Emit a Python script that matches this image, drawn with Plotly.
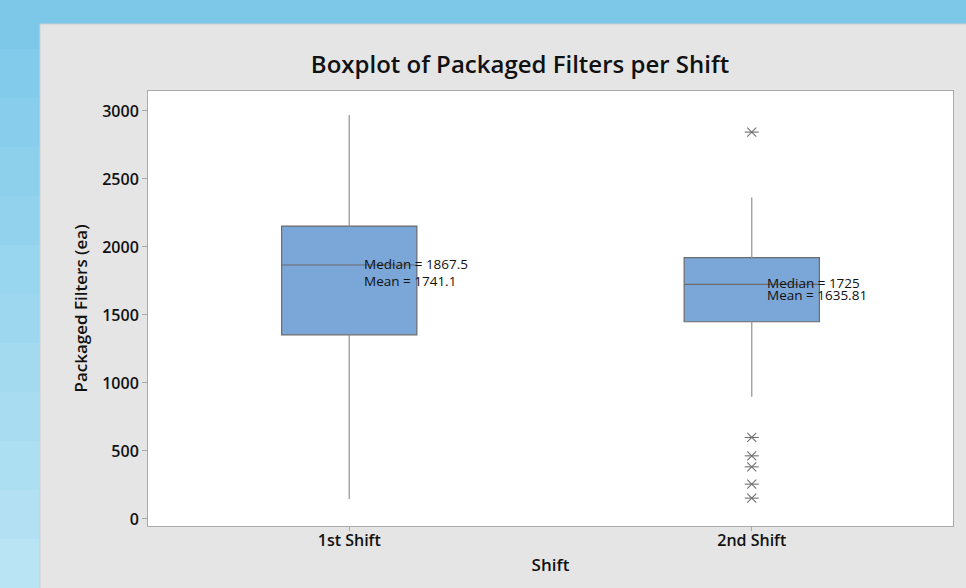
import plotly.graph_objects as go

# ---- data ----
categories = ["1st Shift", "2nd Shift"]
q1 = [1354, 1450]
medians = [1867.5, 1725]
q3 = [2154, 1921]
lower_whisker = [147, 899]
upper_whisker = [2970, 2363]
means = [1741.1, 1635.81]
median_labels = ["Median = 1867.5", "Median = 1725"]
mean_labels = ["Mean = 1741.1", "Mean = 1635.81"]
outlier_cat = ["2nd Shift"] * 6
outlier_vals = [2845, 599, 464, 383, 256, 153]
y_ticks = [0, 500, 1000, 1500, 2000, 2500, 3000]

W, H = 966, 588
L, R, T, B = 148, 953, 91, 526  # plot area in pixels
FONT = "Open Sans"


def px_x(x):
    return (x - L) / (R - L)


def px_y(y):
    return (B - y) / (B - T)


fig = go.Figure()

# whiskers (lighter gray, drawn from the data)
wx, wy = [], []
for i, cat in enumerate(categories):
    wx += [cat, cat, None, cat, cat, None]
    wy += [q3[i], upper_whisker[i], None, q1[i], lower_whisker[i], None]
fig.add_trace(go.Scatter(x=wx, y=wy, mode="lines",
                         line=dict(color="#9a9a9a", width=1.3),
                         showlegend=False, hoverinfo="skip"))

fig.add_trace(go.Box(
    x=categories,
    q1=q1, median=medians, q3=q3,
    lowerfence=q1, upperfence=q3,
    fillcolor="#7BA6D8",
    line=dict(color="#6b6b6b", width=1.2),
    whiskerwidth=0,
    width=0.336,
    boxpoints=False,
    showlegend=False,
    hoverinfo="skip",
))

# outliers: six-spoke asterisks (x + horizontal bar)
fig.add_trace(go.Scatter(
    x=outlier_cat, y=outlier_vals, mode="markers",
    marker=dict(symbol="x-thin-open", size=9, color="#707070",
                line=dict(color="#707070", width=1.1)),
    showlegend=False, hoverinfo="skip",
))
fig.add_trace(go.Scatter(
    x=outlier_cat, y=outlier_vals, mode="markers",
    marker=dict(symbol="line-ew-open", size=10, color="#707070",
                line=dict(color="#707070", width=1.1)),
    showlegend=False, hoverinfo="skip",
))

# median / mean labels
for i, cat in enumerate(categories):
    fig.add_annotation(x=i, y=medians[i], xref="x", yref="y", text=median_labels[i],
                       showarrow=False, xanchor="left", xshift=13, yshift=1,
                       font=dict(family=FONT, size=13.5, color="#111111"))
    fig.add_annotation(x=i, y=means[i], xref="x", yref="y", text=mean_labels[i],
                       showarrow=False, xanchor="left", xshift=13, yshift=1,
                       font=dict(family=FONT, size=13.5, color="#111111"))

shapes = []
# left gradient stripes of the blue backdrop
top_c = (0x7D, 0xC8, 0xE9)
bot_c = (0xB8, 0xE4, 0xF4)
n = 12
band = H / n
for k in range(n):
    t = k / (n - 1)
    c = tuple(int(round(top_c[j] + (bot_c[j] - top_c[j]) * t)) for j in range(3))
    shapes.append(dict(type="rect", xref="paper", yref="paper",
                       x0=px_x(0), x1=px_x(40), y0=px_y(k * band), y1=px_y((k + 1) * band),
                       fillcolor="rgb(%d,%d,%d)" % c, line=dict(width=0), layer="below"))
# gray panel
shapes.append(dict(type="rect", xref="paper", yref="paper",
                   x0=px_x(40), x1=px_x(W + 2), y0=px_y(24), y1=px_y(H + 2),
                   fillcolor="#E5E5E5", line=dict(color="#cfcfcf", width=1), layer="below"))
# white plot area
shapes.append(dict(type="rect", xref="paper", yref="paper",
                   x0=0, x1=1, y0=0, y1=1,
                   fillcolor="white", line=dict(width=0), layer="below"))

fig.update_layout(
    width=W, height=H,
    margin=dict(l=L, r=W - R, t=T, b=H - B),
    paper_bgcolor="#7DC8E9",
    plot_bgcolor="white",
    shapes=shapes,
    title=dict(text="Boxplot of Packaged Filters per Shift",
               x=520 / W, xanchor="center",
               y=1 - 65 / H, yanchor="middle",
               font=dict(family=FONT, size=24, color="#111111", weight=600)),
    xaxis=dict(
        range=[-0.5, 1.5], type="category",
        tickvals=categories, ticktext=categories,
        ticks="outside", ticklen=4, tickcolor="#aaaaaa",
        ticklabelstandoff=-4,
        showline=True, linecolor="#aaaaaa", mirror=True, linewidth=1,
        showgrid=False, zeroline=False,
        tickfont=dict(family=FONT, size=16, color="#111111", weight=600),
        title=dict(text="Shift", standoff=8,
                   font=dict(family=FONT, size=17, color="#111111", weight=600)),
    ),
    yaxis=dict(
        range=[-52, 3147],
        tickvals=y_ticks,
        ticks="outside", ticklen=5, tickcolor="#aaaaaa",
        showline=True, linecolor="#aaaaaa", mirror=True, linewidth=1,
        showgrid=False, zeroline=False,
        tickfont=dict(family=FONT, size=16, color="#111111", weight=600),
        title=dict(text="Packaged Filters (ea)", standoff=10,
                   font=dict(family=FONT, size=17, color="#111111", weight=600)),
    ),
)

fig.write_html("out.html")
